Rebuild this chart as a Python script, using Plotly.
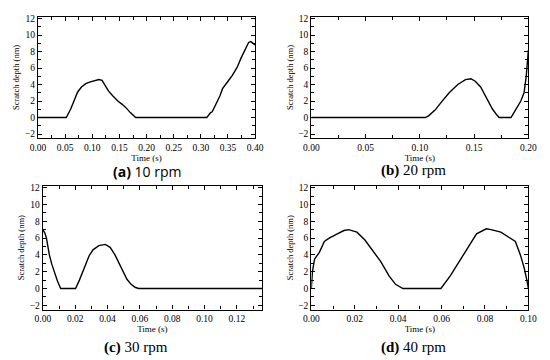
import plotly.graph_objects as go

# ---------------- data ----------------
t_a = [0.0, 0.052, 0.060, 0.067, 0.073, 0.080, 0.088, 0.095, 0.100, 0.106, 0.112, 0.118,
       0.124, 0.130, 0.138, 0.147, 0.155, 0.162, 0.170, 0.176, 0.180, 0.311, 0.315, 0.318,
       0.321, 0.325, 0.329, 0.335, 0.340, 0.345, 0.350, 0.358, 0.367, 0.374, 0.382, 0.388,
       0.392, 0.397, 0.400]
d_a = [0.0, 0.0, 1.0, 2.1, 3.1, 3.7, 4.1, 4.3, 4.4, 4.5, 4.6, 4.5,
       3.9, 3.2, 2.6, 2.0, 1.6, 1.2, 0.6, 0.2, 0.0, 0.0, 0.4, 0.6,
       0.7, 1.2, 1.8, 2.6, 3.5, 3.9, 4.4, 5.1, 6.1, 7.2, 8.4, 9.1,
       9.2, 9.0, 8.8]

t_b = [0.0, 0.105, 0.108, 0.111, 0.114, 0.120, 0.127, 0.135, 0.142, 0.147, 0.151, 0.156,
       0.161, 0.167, 0.171, 0.173, 0.184, 0.187, 0.189, 0.193, 0.196, 0.198, 0.200]
d_b = [0.0, 0.0, 0.2, 0.5, 0.9, 1.9, 3.0, 4.0, 4.6, 4.7, 4.4, 3.7,
       2.5, 1.0, 0.3, 0.0, 0.0, 0.6, 1.1, 2.0, 3.0, 5.0, 8.2]

t_c = [0.0, 0.0012, 0.0022, 0.004, 0.0055, 0.007, 0.009, 0.011, 0.0202, 0.0226, 0.0246,
       0.0266, 0.0286, 0.0310, 0.0346, 0.0386, 0.0416, 0.0446, 0.0476, 0.0496, 0.0520,
       0.0546, 0.0570, 0.0592, 0.1355]
d_c = [7.0, 6.6, 6.0, 4.0, 2.9, 2.0, 0.9, 0.0, 0.0, 1.0, 2.0,
       3.0, 3.9, 4.6, 5.1, 5.25, 4.9, 4.0, 2.8, 2.0, 1.1,
       0.5, 0.15, 0.0, 0.0]

t_d = [0.0, 0.0005, 0.0015, 0.0037, 0.006, 0.0082, 0.012, 0.015, 0.0172, 0.021, 0.0246,
       0.0284, 0.032, 0.0358, 0.0388, 0.0422, 0.0597, 0.064, 0.0687, 0.0724, 0.0761,
       0.0806, 0.0828, 0.0873, 0.0903, 0.094, 0.0963, 0.098, 0.0993, 0.1000]
d_d = [0.0, 2.0, 3.5, 4.3, 5.6, 6.0, 6.5, 6.9, 7.0, 6.7, 5.8,
       4.5, 3.2, 1.5, 0.5, 0.0, 0.0, 1.5, 3.5, 5.0, 6.5,
       7.1, 7.0, 6.7, 6.2, 5.6, 4.0, 2.5, 1.0, 0.0]

captions = ["<b>(a)</b> 10 rpm", "<b>(b)</b> 20 rpm", "<b>(c)</b> 30 rpm", "<b>(d)</b> 40 rpm"]
x_ranges = [[0, 0.40], [0, 0.20], [0, 0.1355], [0, 0.10]]
x_dticks = [0.05, 0.05, 0.02, 0.02]
y_range = [-2.5, 12.2]
y_title = "Scratch depth (nm)"
x_title = "Time (s)"

series = [(t_a, d_a), (t_b, d_b), (t_c, d_c), (t_d, d_d)]

# --------------- layout geometry ---------------
W, H = 550, 360
boxes = [  # left, right, top, bottom in px
    (31, 255, 14, 136.7),
    (313, 537, 14, 136.7),
    (36, 262, 185, 310),
    (313, 537, 185, 310),
]
cap_pos = [(143, 170.5), (418, 169), (132, 348), (418, 348)]
cap_fonts = ["Open Sans", "Liberation Serif", "Liberation Serif", "Liberation Serif"]
cap_sizes = [14, 15, 15, 15]

serif = "Liberation Serif"
fig = go.Figure()
layout = dict(
    width=W, height=H, margin=dict(l=0, r=0, t=0, b=0),
    paper_bgcolor="white", plot_bgcolor="white", showlegend=False,
    font=dict(family=serif, color="black", size=9),
)
annotations = []
for i, ((t, d), (l, r, tp, bt)) in enumerate(zip(series, boxes)):
    n = "" if i == 0 else str(i + 1)
    xa, ya = "xaxis" + n, "yaxis" + n
    fig.add_trace(go.Scatter(x=t, y=d, mode="lines", line=dict(color="black", width=1.4),
                             xaxis="x" + n, yaxis="y" + n, hoverinfo="skip"))
    layout[xa] = dict(
        domain=[l / W, r / W], anchor="y" + n, range=x_ranges[i],
        dtick=x_dticks[i], tick0=0, tickformat=".2f",
        showline=True, linecolor="black", linewidth=1.3, mirror="ticks",
        ticks="inside", ticklen=4, tickwidth=1, tickcolor="black",
        minor=dict(ticks="inside", ticklen=3, dtick=x_dticks[i] / 2, tickcolor="black", tickwidth=1),
        showgrid=False, zeroline=False,
        tickfont=dict(family=serif, size=9.5),
        title=dict(text=x_title, font=dict(family=serif, size=9), standoff=0),
    )
    layout[ya] = dict(
        domain=[1 - bt / H, 1 - tp / H], anchor="x" + n, range=y_range,
        dtick=2, tick0=0,
        showline=True, linecolor="black", linewidth=1.3, mirror="ticks",
        ticks="inside", ticklen=4, tickwidth=1, tickcolor="black",
        minor=dict(ticks="inside", ticklen=3, dtick=1, tickcolor="black", tickwidth=1),
        showgrid=False, zeroline=False,
        tickfont=dict(family=serif, size=9.5),
        title=dict(text=y_title, font=dict(family=serif, size=8.5), standoff=3),
    )
    cx, cy = cap_pos[i]
    annotations.append(dict(text=captions[i], x=cx / W, y=1 - cy / H, xref="paper", yref="paper",
                            showarrow=False, xanchor="center", yanchor="middle",
                            font=dict(family=cap_fonts[i], size=cap_sizes[i], color="black")))
layout["annotations"] = annotations
fig.update_layout(**layout)
fig.write_html("out.html", config={"displayModeBar": False},
               post_script="document.body.style.margin='0';")
